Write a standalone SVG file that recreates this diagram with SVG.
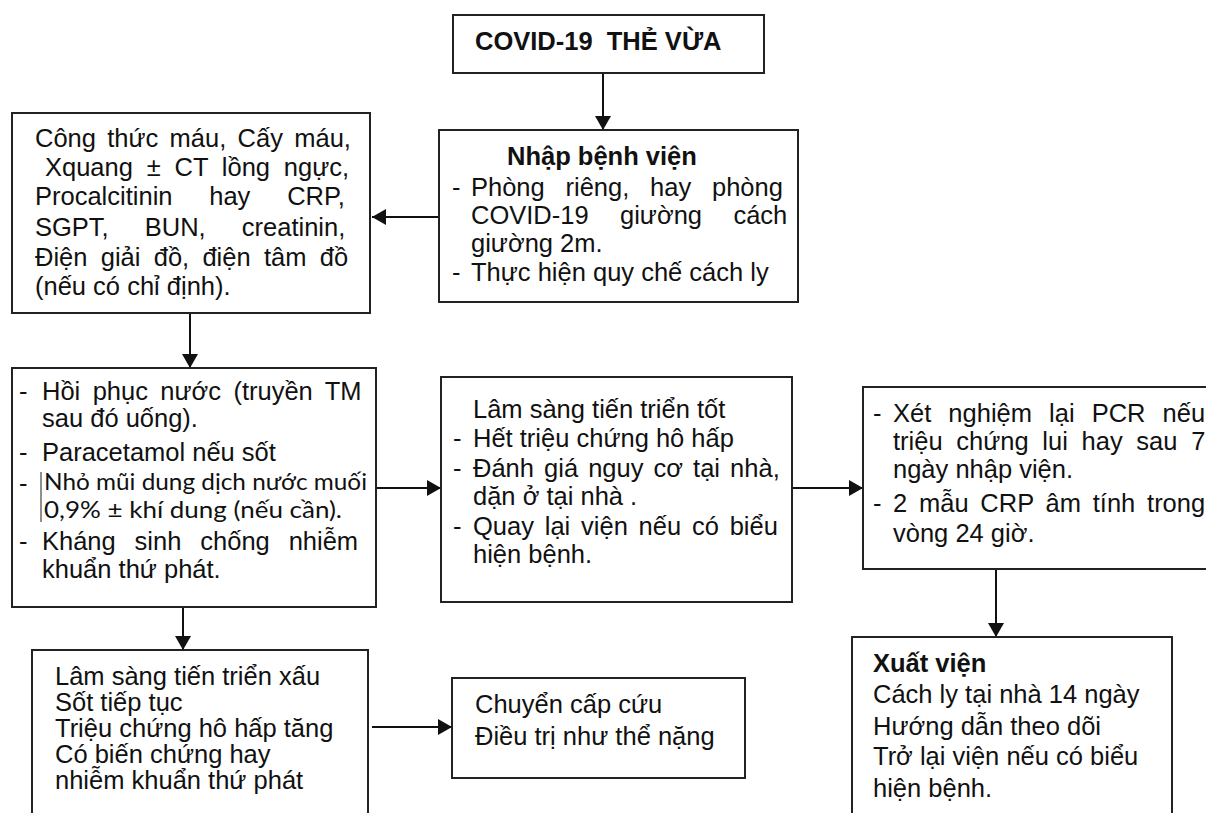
<svg xmlns="http://www.w3.org/2000/svg" width="1206" height="813" viewBox="0 0 1206 813">
  <defs>
    <marker id="arrow" viewBox="0 0 14 16" refX="14" refY="8" markerWidth="14" markerHeight="16" markerUnits="userSpaceOnUse" orient="auto">
      <path d="M0,0 L14,8 L0,16 Z" fill="#111"/>
    </marker>
  </defs>
  <style>
    .box{fill:#fff;stroke:#222;stroke-width:2}
    .t{font-family:"Liberation Sans",Arial,sans-serif;font-size:25.5px;fill:#111}
    .b{font-weight:bold}
    .title{white-space:pre}
    .alt{font-family:Lato,"Open Sans",sans-serif;font-size:23px}
    .edge{fill:none;stroke:#111;stroke-width:2;marker-end:url(#arrow)}
    .mark{stroke:#444;stroke-width:1.2}
  </style>
  <rect width="1206" height="813" fill="#fff"/>

  <!-- connectors -->
  <g id="connectors">
    <line class="edge" x1="603" y1="73" x2="603" y2="130"/>
    <line class="edge" x1="439" y1="217" x2="372" y2="217"/>
    <line class="edge" x1="190" y1="313" x2="190" y2="368"/>
    <line class="edge" x1="376" y1="488" x2="441" y2="488"/>
    <line class="edge" x1="792" y1="488" x2="863" y2="488"/>
    <line class="edge" x1="996" y1="569" x2="996" y2="637"/>
    <line class="edge" x1="183" y1="607" x2="183" y2="650"/>
    <line class="edge" x1="372" y1="727" x2="452" y2="727"/>
  </g>

  <!-- severity header -->
  <g id="node-moderate">
    <rect class="box" x="453" y="15" width="311" height="58"/>
    <text class="t b title" x="475" y="50">COVID-19  THẺ VỪA</text>
  </g>

  <!-- admission -->
  <g id="node-admission">
    <rect class="box" x="439" y="130" width="359" height="172"/>
    <text class="t b" x="507" y="165">Nhập bệnh viện</text>
    <text class="t" x="452" y="196">-</text>
    <text class="t" x="471" y="196" style="word-spacing:13.7px">Phòng riêng, hay phòng</text>
    <text class="t" x="471" y="224" style="word-spacing:24.3px">COVID-19 giường cách</text>
    <text class="t" x="471" y="252">giường 2m.</text>
    <text class="t" x="452" y="281">-</text>
    <text class="t" x="471" y="281">Thực hiện quy chế cách ly</text>
  </g>

  <!-- tests -->
  <g id="node-tests">
    <rect class="box" x="12" y="113" width="358" height="200"/>
    <text class="t" x="35" y="147" style="word-spacing:4.2px">Công thức máu, Cấy máu,</text>
    <text class="t" x="45" y="176" style="word-spacing:6.7px">Xquang ± CT lồng ngực,</text>
    <text class="t" x="35" y="205" style="word-spacing:29.7px">Procalcitinin hay CRP,</text>
    <text class="t" x="35" y="236" style="word-spacing:29px">SGPT, BUN, creatinin,</text>
    <text class="t" x="35" y="266" style="word-spacing:6.2px">Điện giải đồ, điện tâm đồ</text>
    <text class="t" x="35" y="295">(nếu có chỉ định).</text>
  </g>

  <!-- initial treatment -->
  <g id="node-treatment">
    <rect class="box" x="12" y="368" width="364" height="239"/>
    <text class="t" x="19" y="400">-</text>
    <text class="t" x="42" y="400" style="word-spacing:5.3px">Hồi phục nước (truyền TM</text>
    <text class="t" x="42" y="427">sau đó uống).</text>
    <text class="t" x="19" y="461">-</text>
    <text class="t" x="42" y="461">Paracetamol nếu sốt</text>
    <text class="t" x="19" y="492">-</text>
    <line class="mark" x1="41" y1="472" x2="41" y2="522"/>
    <text class="t alt" x="44" y="490" textLength="323" lengthAdjust="spacingAndGlyphs">Nhỏ mũi dung dịch nước muối</text>
    <text class="t alt" x="44" y="518" textLength="298" lengthAdjust="spacingAndGlyphs">0,9% ± khí dung (nếu cần).</text>
    <text class="t" x="19" y="550">-</text>
    <text class="t" x="42" y="550" style="word-spacing:11.8px">Kháng sinh chống nhiễm</text>
    <text class="t" x="42" y="578">khuẩn thứ phát.</text>
  </g>

  <!-- good progress -->
  <g id="node-improving">
    <rect class="box" x="441" y="377" width="351" height="225"/>
    <text class="t" x="473" y="418">Lâm sàng tiến triển tốt</text>
    <text class="t" x="453" y="447">-</text>
    <text class="t" x="473" y="447">Hết triệu chứng hô hấp</text>
    <text class="t" x="453" y="477">-</text>
    <text class="t" x="473" y="477" style="word-spacing:3px">Đánh giá nguy cơ tại nhà,</text>
    <text class="t" x="473" y="505">dặn ở tại nhà .</text>
    <text class="t" x="453" y="535">-</text>
    <text class="t" x="473" y="535" style="word-spacing:3.7px">Quay lại viện nếu có biểu</text>
    <text class="t" x="473" y="563">hiện bệnh.</text>
  </g>

  <!-- retest criteria -->
  <g id="node-retest">
    <rect class="box" x="863" y="387" width="360" height="182"/>
    <text class="t" x="873" y="422">-</text>
    <text class="t" x="893" y="422" style="word-spacing:10px">Xét nghiệm lại PCR nếu</text>
    <text class="t" x="893" y="450" style="word-spacing:6.6px">triệu chứng lui hay sau 7</text>
    <text class="t" x="893" y="478">ngày nhập viện.</text>
    <text class="t" x="873" y="512">-</text>
    <text class="t" x="893" y="512" style="word-spacing:4.7px">2 mẫu CRP âm tính trong</text>
    <text class="t" x="893" y="542">vòng 24 giờ.</text>
  </g>

  <!-- discharge -->
  <g id="node-discharge">
    <rect class="box" x="852" y="637" width="320" height="200"/>
    <text class="t b" x="873" y="672">Xuất viện</text>
    <text class="t" x="873" y="703">Cách ly tại nhà 14 ngày</text>
    <text class="t" x="873" y="735">Hướng dẫn theo dõi</text>
    <text class="t" x="873" y="765">Trở lại viện nếu có biểu</text>
    <text class="t" x="873" y="797">hiện bệnh.</text>
  </g>

  <!-- worsening -->
  <g id="node-worsening">
    <rect class="box" x="32" y="650" width="336" height="190"/>
    <text class="t" x="55" y="685">Lâm sàng tiến triển xấu</text>
    <text class="t" x="55" y="711">Sốt tiếp tục</text>
    <text class="t" x="55" y="737">Triệu chứng hô hấp tăng</text>
    <text class="t" x="55" y="763">Có biến chứng hay</text>
    <text class="t" x="55" y="789">nhiễm khuẩn thứ phát</text>
  </g>

  <!-- emergency transfer -->
  <g id="node-emergency">
    <rect class="box" x="452" y="678" width="293" height="100"/>
    <text class="t" x="475" y="713">Chuyển cấp cứu</text>
    <text class="t" x="475" y="745">Điều trị như thể nặng</text>
  </g>
</svg>
